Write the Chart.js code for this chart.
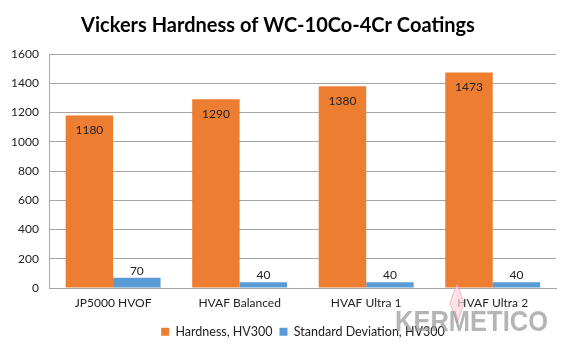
<!DOCTYPE html>
<html>
<head>
<meta charset="utf-8">
<script src="https://cdn.jsdelivr.net/npm/chart.js@4"></script>
<style>
  html, body { margin: 0; padding: 0; background: #fff; }
  #wrap { width: 564px; height: 348px; position: relative; }
</style>
</head>
<body>
<div id="wrap"><canvas id="hardnessChart"></canvas></div>
<script>
// Coating processes and measured values
const processes = ['JP5000 HVOF', 'HVAF Balanced', 'HVAF Ultra 1', 'HVAF Ultra 2'];
const hardness = [1180, 1290, 1380, 1473];
const stdDev = [70, 40, 40, 40];
const seriesNames = ['Hardness, HV300', 'Standard Deviation, HV300'];
const yTicks = [0, 200, 400, 600, 800, 1000, 1200, 1400, 1600];

const FONT = 'Lato, "Liberation Sans", sans-serif';

// value labels: inside the top of the orange bars, above the blue ones
const barLabels = {
    id: 'barLabels',
    afterDatasetsDraw(chart) {
        const ctx = chart.ctx;
        ctx.save();
        ctx.font = '12px ' + FONT;
        ctx.fillStyle = '#222';
        ctx.textAlign = 'center';
        chart.data.datasets.forEach((ds, i) => {
            chart.getDatasetMeta(i).data.forEach((bar, j) => {
                const v = ds.data[j];
                if (i === 0) {
                    ctx.textBaseline = 'top';
                    ctx.fillText(v, bar.x, bar.y + 9);
                } else {
                    ctx.textBaseline = 'bottom';
                    ctx.fillText(v, bar.x, bar.y - 1);
                }
            });
        });
        ctx.restore();
    }
};

// company mark in the lower right corner
const watermark = {
    id: 'watermark',
    afterDraw(chart) {
        const ctx = chart.ctx;
        ctx.save();
        // small pink flame
        ctx.beginPath();
        ctx.moveTo(457, 284);
        ctx.lineTo(464, 303);
        ctx.lineTo(457, 323);
        ctx.lineTo(450, 303);
        ctx.closePath();
        ctx.fillStyle = 'rgba(252, 215, 222, 0.7)';
        ctx.fill();
        ctx.strokeStyle = 'rgba(240, 140, 160, 0.6)';
        ctx.lineWidth = 1;
        ctx.stroke();
        ctx.font = 'bold 30px "Liberation Sans Narrow", "Liberation Sans", sans-serif';
        ctx.fillStyle = 'rgba(150, 150, 150, 0.7)';
        ctx.textBaseline = 'alphabetic';
        ctx.textAlign = 'left';
        ctx.fillText('KERMETICO', 395, 331, 153);
        ctx.restore();
    }
};

new Chart(document.getElementById('hardnessChart'), {
    type: 'bar',
    data: {
        labels: processes,
        datasets: [{
            label: seriesNames[0],
            data: hardness,
            backgroundColor: '#ED7D31',
            categoryPercentage: 0.75,
            barPercentage: 1.0
        }, {
            label: seriesNames[1],
            data: stdDev,
            backgroundColor: '#5B9BD5',
            categoryPercentage: 0.75,
            barPercentage: 1.0
        }]
    },
    options: {
        responsive: true,
        maintainAspectRatio: false,
        animation: false,
        layout: {
            padding: { left: 0, right: 8, top: 0, bottom: 0 }
        },
        plugins: {
            title: {
                display: true,
                text: 'Vickers Hardness of WC-10Co-4Cr Coatings',
                color: '#000',
                font: { family: FONT, size: 20, weight: 'bold' },
                padding: { top: 14, bottom: 16 }
            },
            legend: {
                position: 'bottom',
                fullSize: false,
                labels: {
                    boxWidth: 8,
                    boxHeight: 8,
                    color: '#222',
                    font: { family: FONT, size: 12.5 },
                    padding: 7
                }
            },
            tooltip: { enabled: false }
        },
        scales: {
            y: {
                min: 0,
                max: 1600,
                afterBuildTicks(axis) {
                    axis.ticks = yTicks.map(v => ({ value: v }));
                },
                ticks: {
                    color: '#222',
                    font: { family: FONT, size: 12 },
                    padding: 11,
                    callback: v => String(v)
                },
                grid: {
                    color: '#A6A6A6',
                    drawTicks: false
                },
                border: { display: true, color: '#A6A6A6' }
            },
            x: {
                ticks: {
                    color: '#222',
                    font: { family: FONT, size: 12 },
                    padding: 8
                },
                grid: { display: false, drawTicks: false },
                border: { display: true, color: '#A6A6A6' }
            }
        }
    },
    plugins: [barLabels, watermark]
});
</script>
</body>
</html>
